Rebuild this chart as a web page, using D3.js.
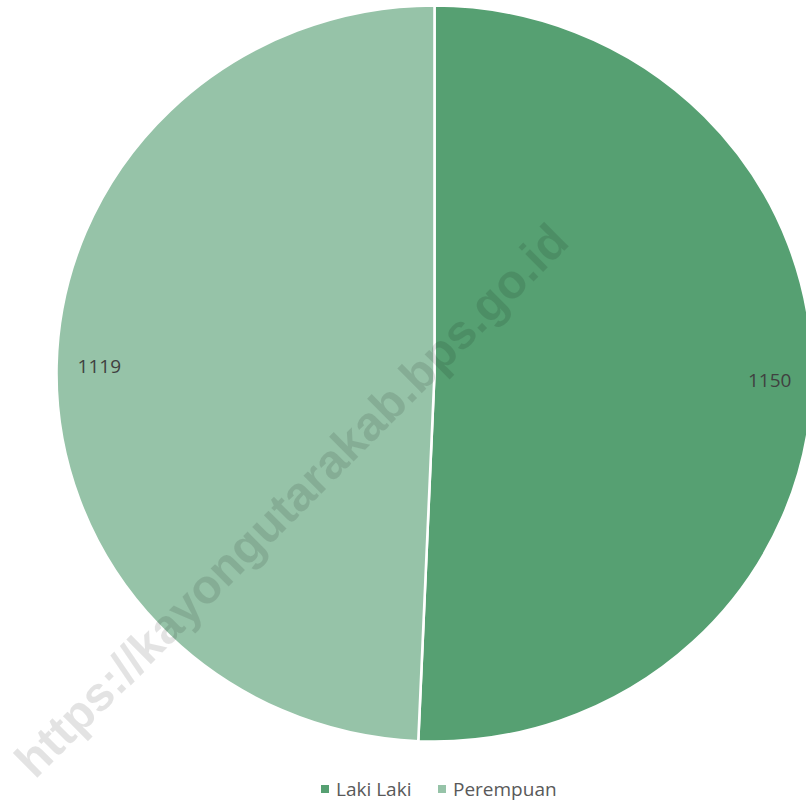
<!DOCTYPE html>
<html>
<head>
<meta charset="utf-8">
<script src="https://cdn.jsdelivr.net/npm/d3@7"></script>
<style>
  body { margin: 0; background: #fff; }
  svg { display: block; }
</style>
</head>
<body>
<div id="chart"></div>
<script>
var categories = ["Laki Laki", "Perempuan"];
var values = [1150, 1119];
var colors = ["#56a072", "#96c3a8"];
var watermark = "https://kayongutarakab.bps.go.id";

var width = 806, height = 803;
var cx = 434.5, cy = 373.5;
var r = 368;
var sx = 378 / 368; // pie is slightly stretched horizontally

var data = categories.map((c, i) => ({ name: c, value: values[i] }));

var color = d3.scaleOrdinal()
    .domain(categories)
    .range(colors);

var pie = d3.pie()
    .sort(null)
    .value(d => d.value);

var arc = d3.arc()
    .innerRadius(0)
    .outerRadius(r);

var labelArc = d3.arc()
    .innerRadius(r * 0.887)
    .outerRadius(r * 0.887);

var svg = d3.select("#chart").append("svg")
    .attr("width", width)
    .attr("height", height)
    .attr("viewBox", [0, 0, width, height]);

var arcs = pie(data);

svg.append("g")
    .attr("transform", `translate(${cx},${cy}) scale(${sx},1)`)
    .selectAll("path")
    .data(arcs)
    .join("path")
    .attr("d", arc)
    .attr("fill", d => color(d.data.name))
    .attr("stroke", "#fff")
    .attr("stroke-width", 2.5);

svg.append("g")
    .attr("transform", `translate(${cx},${cy})`)
    .selectAll("text")
    .data(arcs)
    .join("text")
    .attr("x", d => labelArc.centroid(d)[0] * sx)
    .attr("y", d => labelArc.centroid(d)[1])
    .attr("dy", "0.35em")
    .attr("text-anchor", "middle")
    .style("font", "19px 'Open Sans', sans-serif")
    .attr("fill", "#404040")
    .text(d => d.data.value);

// legend
var legendItems = [
    { name: categories[0], sq: 321, tx: 336 },
    { name: categories[1], sq: 438, tx: 453 }
];
var legend = svg.append("g");
legend.selectAll("rect")
    .data(legendItems)
    .join("rect")
    .attr("x", d => d.sq)
    .attr("y", 785)
    .attr("width", 8)
    .attr("height", 8)
    .attr("fill", d => color(d.name));
legend.selectAll("text")
    .data(legendItems)
    .join("text")
    .attr("x", d => d.tx)
    .attr("y", 789)
    .attr("dy", "0.35em")
    .style("font", "19px 'Open Sans', sans-serif")
    .attr("fill", "#595959")
    .text(d => d.name);

// watermark
svg.append("text")
    .attr("transform", "translate(303,512) rotate(-45)")
    .attr("text-anchor", "middle")
    .attr("textLength", 758)
    .attr("lengthAdjust", "spacingAndGlyphs")
    .style("font", "bold 48px 'Liberation Sans', Arial, sans-serif")
    .attr("fill", "#000")
    .attr("fill-opacity", 0.11)
    .text(watermark);
</script>
</body>
</html>
